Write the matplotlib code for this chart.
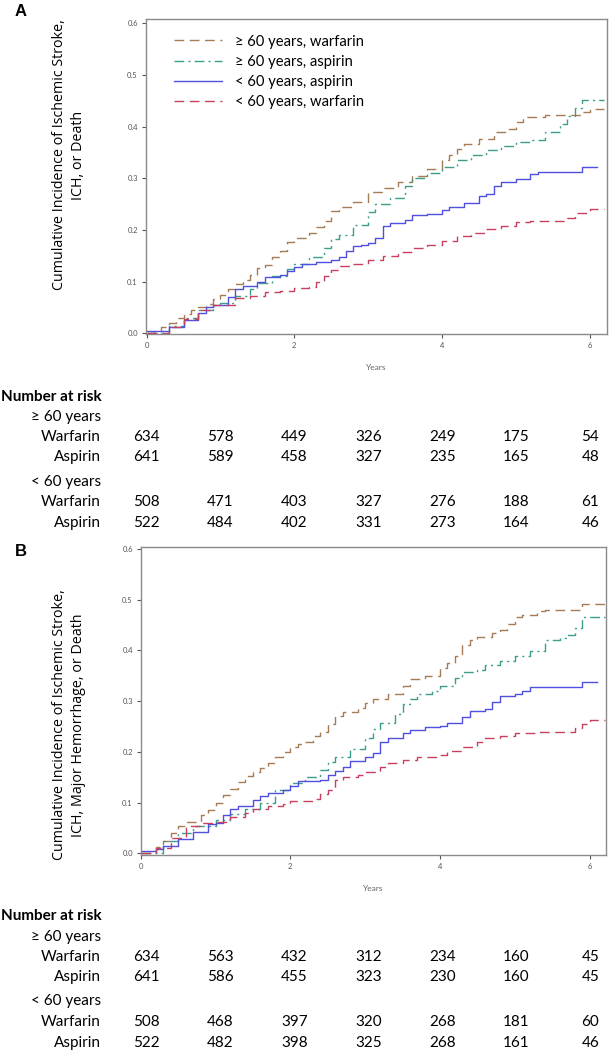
import numpy as np
import matplotlib
matplotlib.use("Agg")
import matplotlib.pyplot as plt

plt.rcParams['font.family'] = ['Lato', 'DejaVu Sans']

# ---- data ----
labels = ['\u2265 60 years, warfarin', '\u2265 60 years, aspirin',
          '< 60 years, aspirin', '< 60 years, warfarin']
colors = ['#A57C55', '#3A9E8A', '#4F4FE0', '#C8405E']
styles = [(0, (7, 4)), (0, (7, 3, 1.5, 3)), '-', (0, (7, 4))]

# panel A: ischemic stroke, ICH or death
a_old_warf_t = [0, 0.1, 0.2, 0.3, 0.4, 0.5, 0.6, 0.7, 0.8, 0.9, 1.0, 1.1, 1.2, 1.3, 1.4, 1.5, 1.6, 1.7, 1.8, 1.9,
                2.0, 2.2, 2.3, 2.4, 2.5, 2.6, 2.8, 3.0, 3.2, 3.4, 3.6, 3.8, 4.0, 4.1, 4.2, 4.3, 4.5, 4.7, 4.9,
                5.0, 5.1, 5.4, 5.9, 6.0, 6.2]
a_old_warf_y = [0, 0.005, 0.012, 0.02, 0.03, 0.038, 0.045, 0.05, 0.056, 0.066, 0.075, 0.085, 0.095, 0.103, 0.112,
                0.126, 0.133, 0.147, 0.16, 0.176, 0.184, 0.195, 0.205, 0.218, 0.237, 0.244, 0.254, 0.274, 0.281,
                0.292, 0.305, 0.318, 0.335, 0.345, 0.357, 0.367, 0.377, 0.39, 0.396, 0.409, 0.419, 0.422, 0.428,
                0.435, 0.435]
a_old_asp_t = [0, 0.3, 0.5, 0.7, 0.9, 1.0, 1.2, 1.4, 1.5, 1.7, 1.9, 2.0, 2.2, 2.4, 2.5, 2.6, 2.8, 3.0, 3.1, 3.3,
               3.5, 3.6, 3.8, 4.0, 4.2, 4.4, 4.6, 4.8, 5.0, 5.2, 5.4, 5.6, 5.7, 5.8, 5.9, 6.2]
a_old_asp_y = [0, 0.015, 0.03, 0.045, 0.055, 0.058, 0.072, 0.085, 0.098, 0.11, 0.125, 0.135, 0.147, 0.165, 0.182,
               0.19, 0.21, 0.235, 0.25, 0.262, 0.285, 0.3, 0.31, 0.322, 0.335, 0.345, 0.355, 0.362, 0.37, 0.375,
               0.39, 0.405, 0.42, 0.437, 0.452, 0.452]
a_young_asp_t = [0, 0.3, 0.5, 0.7, 0.8, 0.9, 1.0, 1.1, 1.2, 1.3, 1.5, 1.6, 1.8, 1.9, 2.0, 2.1, 2.3, 2.5, 2.6, 2.7,
                 2.8, 2.9, 3.0, 3.1, 3.2, 3.3, 3.5, 3.6, 3.8, 4.0, 4.1, 4.3, 4.5, 4.6, 4.7, 4.8, 5.0, 5.2, 5.3,
                 5.9, 6.1]
a_young_asp_y = [0.005, 0.012, 0.025, 0.04, 0.05, 0.055, 0.055, 0.07, 0.085, 0.092, 0.1, 0.108, 0.113, 0.12,
                 0.128, 0.135, 0.137, 0.142, 0.148, 0.16, 0.168, 0.17, 0.175, 0.185, 0.207, 0.213, 0.22, 0.228,
                 0.231, 0.238, 0.245, 0.252, 0.265, 0.27, 0.285, 0.293, 0.298, 0.308, 0.313, 0.322, 0.322]
a_young_warf_t = [0, 0.3, 0.5, 0.7, 0.9, 1.0, 1.2, 1.4, 1.6, 1.8, 2.0, 2.2, 2.3, 2.4, 2.5, 2.6, 2.8, 3.0, 3.2, 3.4,
                  3.6, 3.8, 4.0, 4.2, 4.4, 4.6, 4.8, 5.0, 5.2, 5.7, 5.8, 6.0, 6.2]
a_young_warf_y = [0, 0.012, 0.028, 0.045, 0.055, 0.055, 0.068, 0.073, 0.079, 0.082, 0.087, 0.09, 0.1, 0.11, 0.122,
                  0.131, 0.134, 0.142, 0.15, 0.158, 0.166, 0.17, 0.178, 0.188, 0.195, 0.202, 0.208, 0.216, 0.218,
                  0.224, 0.232, 0.24, 0.24]

# panel B: ischemic stroke, ICH, major hemorrhage or death
b_old_warf_t = [0, 0.2, 0.3, 0.4, 0.5, 0.6, 0.8, 0.9, 1.0, 1.1, 1.2, 1.3, 1.4, 1.5, 1.6, 1.7, 1.8, 1.9, 2.0, 2.1,
                2.2, 2.3, 2.4, 2.5, 2.6, 2.7, 2.9, 3.0, 3.1, 3.3, 3.5, 3.6, 3.8, 4.0, 4.1, 4.2, 4.3, 4.4, 4.5,
                4.7, 4.8, 4.9, 5.0, 5.1, 5.3, 5.4, 5.9, 6.2]
b_old_warf_y = [0, 0.012, 0.025, 0.04, 0.055, 0.062, 0.075, 0.085, 0.1, 0.115, 0.128, 0.14, 0.152, 0.16, 0.168,
                0.178, 0.19, 0.2, 0.21, 0.215, 0.22, 0.232, 0.24, 0.255, 0.27, 0.278, 0.287, 0.297, 0.305, 0.315,
                0.33, 0.343, 0.35, 0.365, 0.375, 0.39, 0.41, 0.42, 0.427, 0.435, 0.44, 0.452, 0.465, 0.47, 0.478,
                0.48, 0.492, 0.492]
b_old_asp_t = [0, 0.3, 0.5, 0.7, 1.0, 1.2, 1.4, 1.6, 1.8, 2.0, 2.2, 2.4, 2.5, 2.6, 2.8, 3.0, 3.1, 3.2, 3.4, 3.5,
               3.6, 3.7, 3.9, 4.0, 4.2, 4.3, 4.5, 4.6, 4.8, 5.0, 5.2, 5.4, 5.6, 5.7, 5.8, 5.9, 6.2]
b_old_asp_y = [0, 0.025, 0.04, 0.055, 0.065, 0.078, 0.088, 0.1, 0.125, 0.138, 0.15, 0.165, 0.18, 0.19, 0.205,
               0.227, 0.245, 0.258, 0.275, 0.295, 0.305, 0.315, 0.32, 0.33, 0.345, 0.358, 0.362, 0.372, 0.38,
               0.39, 0.398, 0.42, 0.425, 0.43, 0.445, 0.466, 0.466]
b_young_asp_t = [0, 0.2, 0.3, 0.5, 0.7, 0.9, 1.0, 1.1, 1.2, 1.3, 1.5, 1.6, 1.7, 1.9, 2.0, 2.1, 2.4, 2.5, 2.6, 2.7,
                 2.8, 3.0, 3.1, 3.2, 3.3, 3.5, 3.6, 3.8, 4.0, 4.1, 4.3, 4.4, 4.6, 4.7, 4.8, 5.0, 5.1, 5.2, 5.9,
                 6.1]
b_young_asp_y = [0.005, 0.008, 0.015, 0.028, 0.042, 0.058, 0.06, 0.075, 0.088, 0.093, 0.105, 0.113, 0.12, 0.125,
                 0.132, 0.143, 0.145, 0.155, 0.162, 0.17, 0.182, 0.19, 0.198, 0.22, 0.228, 0.237, 0.243, 0.25,
                 0.252, 0.258, 0.268, 0.28, 0.285, 0.298, 0.31, 0.315, 0.32, 0.328, 0.338, 0.338]
b_young_warf_t = [0, 0.2, 0.4, 0.6, 0.8, 1.0, 1.2, 1.4, 1.5, 1.7, 1.9, 2.0, 2.3, 2.4, 2.5, 2.6, 2.7, 2.9, 3.0,
                  3.2, 3.3, 3.5, 3.7, 4.0, 4.1, 4.3, 4.5, 4.6, 4.8, 5.0, 5.3, 5.8, 5.9, 6.0, 6.2]
b_young_warf_y = [0, 0.01, 0.03, 0.055, 0.06, 0.063, 0.072, 0.08, 0.088, 0.093, 0.098, 0.103, 0.108, 0.118,
                  0.125, 0.145, 0.15, 0.155, 0.16, 0.17, 0.178, 0.185, 0.19, 0.195, 0.202, 0.21, 0.22, 0.228,
                  0.232, 0.238, 0.24, 0.247, 0.255, 0.263, 0.263]

# number at risk tables
risk_years = [0, 1, 2, 3, 4, 5, 6]
a_risk_old_warf = [634, 578, 449, 326, 249, 175, 54]
a_risk_old_asp = [641, 589, 458, 327, 235, 165, 48]
a_risk_young_warf = [508, 471, 403, 327, 276, 188, 61]
a_risk_young_asp = [522, 484, 402, 331, 273, 164, 46]
b_risk_old_warf = [634, 563, 432, 312, 234, 160, 45]
b_risk_old_asp = [641, 586, 455, 323, 230, 160, 45]
b_risk_young_warf = [508, 468, 397, 320, 268, 181, 60]
b_risk_young_asp = [522, 482, 398, 325, 268, 161, 46]

W, H = 611, 1050
TFS = 11  # table font size
fig = plt.figure(figsize=(W / 100, H / 100), dpi=100)


def px_axes(left, top, right, bottom):
    # axes from pixel box
    return fig.add_axes([left / W, 1 - bottom / H, (right - left) / W, (bottom - top) / H])


def draw_panel(ax, curves, xlim, ylim, legend=False):
    for (t, y), c, ls, lab in zip(curves, colors, styles, labels):
        ax.plot(t, y, drawstyle='steps-post', color=c, linestyle=ls, lw=1.0, label=lab)
    ax.set_xlim(*xlim)
    ax.set_ylim(*ylim)
    ax.set_xticks([0, 2, 4, 6])
    ax.set_yticks(np.arange(0, 0.61, 0.1))
    ax.yaxis.set_major_formatter(plt.FormatStrFormatter('%.1f'))
    ax.tick_params(labelsize=5.5, colors='#555555', length=3, width=0.8, pad=2.5)
    for s in ax.spines.values():
        s.set_color('#8a8a8a')
        s.set_linewidth(1.0)
    ax.set_xlabel('Years', fontsize=6, color='#666666', labelpad=11)
    if legend:
        ax.legend(loc='upper left', bbox_to_anchor=(0.045, 0.975), frameon=False, fontsize=10.6,
                  handlelength=3.3, handletextpad=0.9, labelspacing=0.42, borderpad=0)


def draw_table(top, rows):
    # table axes: x in years (same spacing as panel A), y in pixels
    tax = fig.add_axes([0, 1 - (top + 135) / H, 1, 135 / H])
    tax.set_xlim(-146.6 / 73.95, (W - 146.6) / 73.95)
    tax.set_ylim(top + 135, top)
    tax.axis('off')
    tax.text(-146.6 / 73.95 + 0.01, top, 'Number at risk', fontsize=TFS, fontweight='bold',
             ha='left', va='center')
    lab_x = (101 - 146.6) / 73.95
    for ypos, name, vals in rows:
        tax.text(lab_x, ypos, name, fontsize=TFS, ha='right', va='center')
        if vals is not None:
            for yr, v in zip(risk_years, vals):
                tax.text(yr, ypos, str(v), fontsize=TFS, ha='center', va='center')


# ---- panel A ----
axA = px_axes(145.5, 19.3, 606.7, 334.3)
draw_panel(axA, [(a_old_warf_t, a_old_warf_y), (a_old_asp_t, a_old_asp_y),
                 (a_young_asp_t, a_young_asp_y), (a_young_warf_t, a_young_warf_y)],
           (-0.016, 6.233), (-0.002, 0.6078), legend=True)
fig.text(69 / W, 1 - 155 / H, 'Cumulative Incidence of Ischemic Stroke,\nICH, or Death',
         rotation=90, ha='center', va='center', fontsize=10.3, family=['Open Sans', 'DejaVu Sans'],
         linespacing=1.35)
fig.text(21 / W, 1 - 11 / H, 'A', fontsize=12, fontweight='bold', ha='center', va='center',
         family=['Liberation Sans', 'DejaVu Sans'])

draw_table(397, [(417, '\u2265 60 years', None), (437, 'Warfarin', a_risk_old_warf),
                 (457, 'Aspirin', a_risk_old_asp), (482, '< 60 years', None),
                 (502, 'Warfarin', a_risk_young_warf), (523, 'Aspirin', a_risk_young_asp)])

# ---- panel B ----
axB = px_axes(140.5, 546.7, 606, 855)
draw_panel(axB, [(b_old_warf_t, b_old_warf_y), (b_old_asp_t, b_old_asp_y),
                 (b_young_asp_t, b_young_asp_y), (b_young_warf_t, b_young_warf_y)],
           (-0.003, 6.22), (-0.003, 0.6045))
fig.text(69 / W, 1 - 725 / H, 'Cumulative Incidence of Ischemic Stroke,\nICH, Major Hemorrhage, or Death',
         rotation=90, ha='center', va='center', fontsize=10.3, family=['Open Sans', 'DejaVu Sans'],
         linespacing=1.35)
fig.text(21 / W, 1 - 551 / H, 'B', fontsize=12, fontweight='bold', ha='center', va='center',
         family=['Liberation Sans', 'DejaVu Sans'])

draw_table(916, [(937, '\u2265 60 years', None), (957, 'Warfarin', b_risk_old_warf),
                 (977, 'Aspirin', b_risk_old_asp), (1001, '< 60 years', None),
                 (1022, 'Warfarin', b_risk_young_warf), (1043, 'Aspirin', b_risk_young_asp)])

fig.savefig('out.png', dpi=100)
